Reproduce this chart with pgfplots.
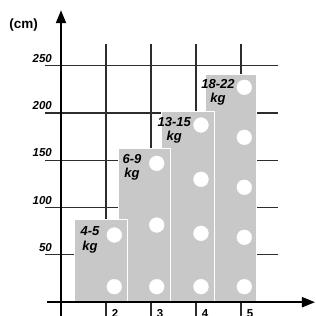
\documentclass[border=0pt]{standalone}
\usepackage{fontspec}
\setmainfont{Liberation Sans}
\usepackage{pgfplots}
\pgfplotsset{compat=1.18}
\usetikzlibrary{arrows.meta}
\definecolor{barg}{RGB}{200,200,200}
\definecolor{gridc}{RGB}{45,45,45}
\begin{document}
\begin{tikzpicture}
\begin{axis}[scale only axis, width=316pt, height=316pt,
  xmin=-0.3556, xmax=6.6667, ymin=-14.6, ymax=319.5,
  axis lines=none, clip=false]
% grid
\pgfplotsinvokeforeach{50,100,150,200,250}{
  \draw[gridc, line width=1.1pt] (axis cs:0.644,#1) -- (axis cs:5.816,#1);
  \node[anchor=east, inner sep=0pt, font=\fontsize{11.5}{12}\selectfont\bfseries\itshape] at (axis cs:0.8,#1+8) {#1};
}
\pgfplotsinvokeforeach{2,3,4,5}{
  \draw[gridc, line width=1.1pt] (axis cs:#1,-14.6) -- (axis cs:#1,273);
  \node[anchor=north west, inner sep=0pt, font=\fontsize{11.5}{12}\selectfont\bfseries] at (axis cs:#1+0.127,-7.7) {#1};
}
% bar 4
\addplot[fill=barg, draw=white, line width=1pt] coordinates {(4.2,241) (5.349,241)} \closedcycle;
\addplot[only marks, mark=*, mark size=7.4pt, white, mark options={draw=none}] coordinates {(5.073,227.2) (5.073,174.3) (5.073,121.5) (5.073,68.6) (5.073,16.4)};
% bar 3
\addplot[fill=barg, draw=white, line width=1pt] coordinates {(3.238,201.4) (4.4,201.4)} \closedcycle;
\addplot[only marks, mark=*, mark size=7.4pt, white, mark options={draw=none}] coordinates {(4.111,187.3) (4.111,129.9) (4.111,72.8) (4.111,16.4)};
% bar 2
\addplot[fill=barg, draw=white, line width=1pt] coordinates {(2.273,162) (3.438,162)} \closedcycle;
\addplot[only marks, mark=*, mark size=7.4pt, white, mark options={draw=none}] coordinates {(3.127,146.8) (3.127,81.6) (3.127,16.4)};
% bar 1
\addplot[fill=barg, draw=white, line width=1pt] coordinates {(1.311,87.6) (2.482,87.6)} \closedcycle;
\addplot[only marks, mark=*, mark size=7.4pt, white, mark options={draw=none}] coordinates {(2.184,71.0) (2.184,16.4)};
% labels
\tikzset{kl/.style={align=center, inner sep=0pt, font=\fontsize{13}{14.5}\selectfont\bfseries\itshape}}
\node[kl] at (axis cs:1.644,65.8) {4-5\\kg};
\node[kl] at (axis cs:2.578,142.5) {6-9\\kg};
\node[kl] at (axis cs:3.518,181.7) {13-15\\kg};
\node[kl] at (axis cs:4.489,221.7) {18-22\\kg};
\node[inner sep=0pt, font=\fontsize{13.5}{14}\selectfont\bfseries] at (axis cs:0.171,293) {(cm)};
% axes
\draw[black, line width=2pt, -{Triangle[length=13pt,width=10pt]}] (axis cs:1,-14.6) -- (axis cs:1,308.7);
\draw[black, line width=2pt, -{Triangle[length=13pt,width=10pt]}] (axis cs:0.682,0) -- (axis cs:6.644,0);
\end{axis}
\pgfresetboundingbox
\path (current axis.south west) rectangle (current axis.north east);
\end{tikzpicture}
\end{document}
